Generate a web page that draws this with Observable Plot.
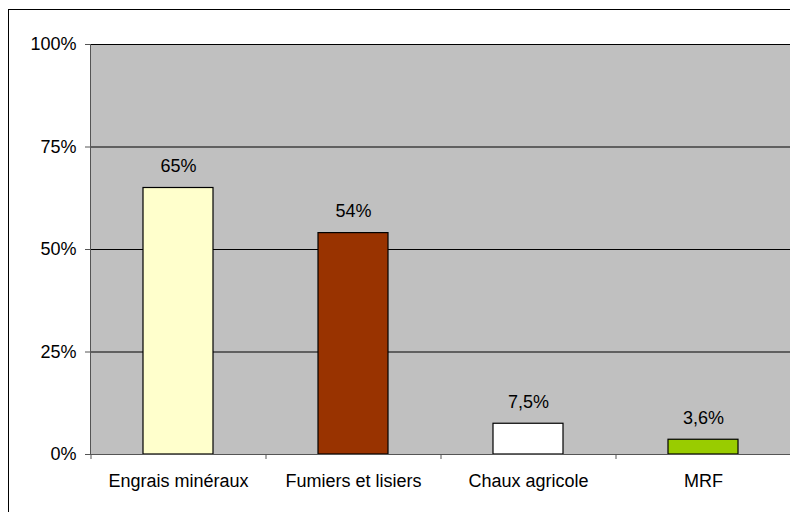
<!DOCTYPE html>
<html>
<head>
<meta charset="utf-8">
<script src="https://cdn.jsdelivr.net/npm/d3@7"></script>
<script src="https://cdn.jsdelivr.net/npm/@observablehq/plot@0.6"></script>
<style>
  html, body { margin: 0; padding: 0; background: #fff; overflow: hidden; }
  #wrap { position: relative; width: 790px; height: 512px; overflow: hidden; }
  #frame { position: absolute; left: 8px; top: 9px; width: 900px; height: 600px; border: 1px solid #000; box-sizing: border-box; pointer-events: none; }
  #chart { position: absolute; left: 0; top: 0; }
</style>
</head>
<body>
<div id="wrap"><div id="chart"></div><div id="frame"></div></div>
<script>
const categories = ["Engrais minéraux", "Fumiers et lisiers", "Chaux agricole", "MRF"];
const values = [65, 54, 7.5, 3.6];
const valueLabels = ["65%", "54%", "7,5%", "3,6%"];
const colors = ["#FFFFCC", "#993300", "#FFFFFF", "#99CC00"];
const yTicks = [0, 25, 50, 75, 100];
const gridTicks = [25, 50, 75, 100];

const data = categories.map((c, i) => ({cat: c, value: values[i], label: valueLabels[i], color: colors[i]}));
const font = "'Liberation Sans', Arial, sans-serif";
const step = 700 / 4;

const chart = Plot.plot({
  width: 790,
  height: 512,
  marginLeft: 90,
  marginRight: 0,
  marginTop: 44,
  marginBottom: 58,
  style: {fontFamily: font, fontSize: "18px", color: "#000", background: "transparent"},
  x: {domain: categories, paddingInner: 0.6, paddingOuter: 0.3, label: null},
  y: {domain: [0, 100], label: null},
  marks: [
    Plot.frame({fill: "#C0C0C0", stroke: null}),
    Plot.ruleY(gridTicks, {stroke: "#000", strokeWidth: 1}),
    Plot.barY(data, {x: "cat", y: "value", fill: "color", stroke: "#000", strokeWidth: 1.2}),
    Plot.text(data, {x: "cat", y: "value", text: "label", lineAnchor: "bottom", dy: -16, fill: "#000", fontSize: 18}),
    Plot.axisY(yTicks, {tickSize: 5, tickPadding: 9, tickFormat: d => d + "%", stroke: "#555", fill: "#000", fontSize: 18}),
    Plot.axisX(categories, {tickSize: 0, tickPadding: 20, fill: "#000", fontSize: 18}),
    Plot.axisX(categories, {tickSize: 5, tickFormat: () => "", dx: step / 2, stroke: "#555"}),
    Plot.axisX([categories[0]], {tickSize: 5, tickFormat: () => "", dx: -step / 2, stroke: "#555"}),
    Plot.frame({anchor: "left", stroke: "#555"}),
    Plot.frame({anchor: "bottom", stroke: "#555"})
  ]
});
document.getElementById("chart").appendChild(chart);
</script>
</body>
</html>
